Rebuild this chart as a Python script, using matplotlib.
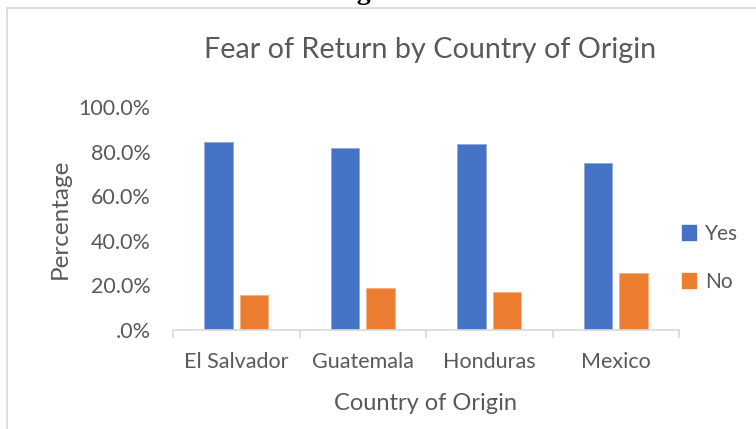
"""Fear of return by country of origin, clustered bar chart."""

import matplotlib

matplotlib.use("Agg")
import matplotlib.pyplot as plt
import numpy as np
from matplotlib.patches import Patch, Rectangle

COUNTRIES = ["El Salvador", "Guatemala", "Honduras", "Mexico"]
YES = [0.845, 0.817, 0.832, 0.748]
NO = [0.158, 0.188, 0.172, 0.254]
Y_TICKS = [0.0, 0.2, 0.4, 0.6, 0.8, 1.0]
Y_TICK_LABELS = [".0%", "20.0%", "40.0%", "60.0%", "80.0%", "100.0%"]

BLUE = "#4472C4"
ORANGE = "#ED7D31"
TEXT = "#595959"
GRID = "#D9D9D9"

plt.rcParams["font.family"] = ["Lato", "DejaVu Sans"]

fig = plt.figure(figsize=(7.56, 4.29), dpi=100)
fig.patch.set_facecolor("white")

# chart frame, runs off the right and bottom edges
fig.patches.append(Rectangle((7 / 756, -0.1), 1.2, 1.1 - 8 / 429, transform=fig.transFigure,
                             fill=False, edgecolor=GRID, linewidth=1.2))
# caption above the chart, mostly outside the crop
fig.text(0.505, 1 + 1 / 429, "Figure 7", family="Liberation Serif", fontweight="bold",
         fontsize=20, ha="center", va="baseline", color="black")

ax = fig.add_axes([173 / 756, 1 - 330 / 429, (679 - 173) / 756, (330 - 107) / 429])
x = np.arange(len(COUNTRIES))
off = 0.142
w = 0.225
ax.bar(x - off, YES, w, color=BLUE, edgecolor="#8FAADC", linewidth=0.6, label="Yes")
ax.bar(x + off, NO, w, color=ORANGE, edgecolor="#F4B183", linewidth=0.6, label="No")

ax.set_xlim(-0.5, len(COUNTRIES) - 0.5)
ax.set_ylim(0, 1.0)
ax.set_yticks(Y_TICKS)
ax.set_yticklabels(Y_TICK_LABELS)
ax.set_xticks(x)
ax.set_xticklabels(COUNTRIES)
ax.set_xticks(np.arange(len(COUNTRIES) + 1) - 0.5, minor=True)
ax.tick_params(axis="x", which="major", length=0, pad=16, labelsize=15.5, labelcolor=TEXT)
ax.tick_params(axis="x", which="minor", length=6, color=GRID, width=1.2)
ax.tick_params(axis="y", length=0, pad=16, labelsize=15.5, labelcolor=TEXT)

for side in ["top", "right", "left"]:
    ax.spines[side].set_visible(False)
ax.spines["bottom"].set_color(GRID)
ax.spines["bottom"].set_linewidth(1.2)

ax.set_xlabel("Country of Origin", fontsize=17, color=TEXT, labelpad=15)
ax.set_ylabel("Percentage", fontsize=17.5, color=TEXT, labelpad=6)
fig.text(430 / 756, 1 - 50 / 429, "Fear of Return by Country of Origin", fontsize=20.7,
         color=TEXT, ha="center", va="center")

handles = [Patch(color=BLUE), Patch(color=ORANGE)]
fig.legend(handles, ["Yes", "No"], loc="center left", bbox_to_anchor=(663 / 756, 1 - 258 / 429),
           frameon=False, fontsize=15, labelcolor=TEXT, handlelength=0.7, handleheight=0.7,
           handletextpad=0.4, labelspacing=1.35)

fig.savefig("out.png", dpi=100)
